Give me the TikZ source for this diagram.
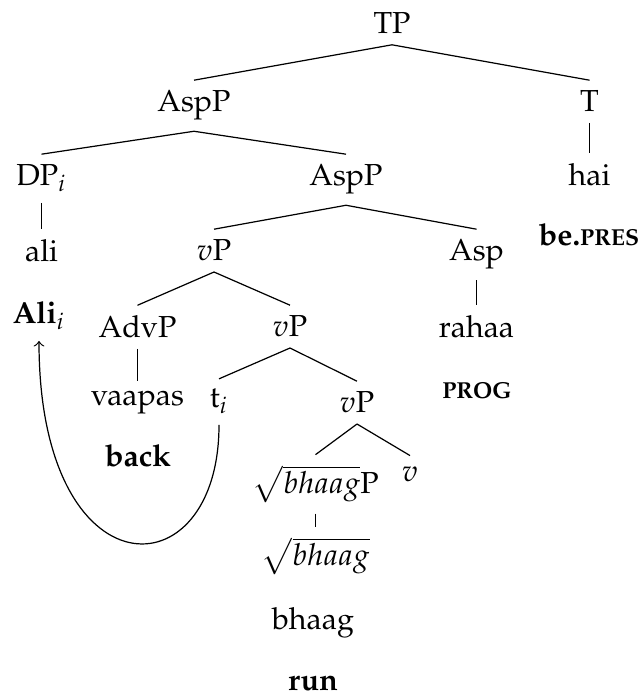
\documentclass[tikz,border=0pt]{standalone}
\usepackage[T1]{fontenc}
\usepackage[sc]{mathpazo}
% bold small capitals for glosses (scaled capitals)
\newcommand{\glsc}[1]{{\fontsize{7.6}{9}\selectfont #1}}
\tikzset{
  cat/.style={anchor=base, inner sep=3.33pt},
  gloss/.style={anchor=base, inner sep=3.33pt, font=\bfseries},
  branch/.style={line width=0.4pt},
  move/.style={->, line width=0.4pt}
}

\begin{document}
\begin{tikzpicture}[x=0.329pt, y=-0.329pt]
\useasboundingbox (0,0) rectangle (641,696);

% the tree
\node[cat] (TP) at (392,34) {TP};
\node[cat] (AspPa) at (194,112) {AspP};
\node[cat] (T) at (589.5,112) {T};
\node[cat] (DP) at (41.5,186) {DP$_i$};
\node[cat] (AspPb) at (346,186) {AspP};
\node[cat] (hai) at (589.5,186) {hai};
\node[cat] (ali) at (41.5,262) {ali};
\node[cat] (vPa) at (214,261) {$v$P};
\node[cat] (Asp) at (476.5,261) {Asp};
\node[cat] (AdvP) at (137.5,338) {AdvP};
\node[cat] (vPb) at (290,337) {$v$P};
\node[cat] (rahaa) at (476.5,338) {rahaa};
\node[cat] (vaapas) at (137.5,406) {vaapas};
\node[cat] (t) at (219,408) {t$_i$};
\node[cat] (vPc) at (357,413) {$v$P};
\node[cat] (rootP) at (315.5,493) {$\sqrt{bhaag}$P};
\node[cat] (v) at (410,481) {$v$};
\node[cat] (root) at (315.5,565) {$\sqrt{bhaag}$};
\node[cat] (bhaag) at (313,629) {bhaag};

\foreach \a/\b in {TP/AspPa, TP/T, AspPa/DP, AspPa/AspPb, T/hai,
    DP/ali, AspPb/vPa, AspPb/Asp, vPa/AdvP, vPa/vPb, Asp/rahaa,
    AdvP/vaapas, vPb/t, vPb/vPc, vPc/rootP, vPc/v, rootP/root}
  \draw[branch] (\a.south) -- (\b.north);

% glosses
\node[gloss] (bepres) at (589,246) {be.\glsc{PRES}};
\node[gloss] (Ali) at (39,324) {Ali\normalfont$_i$};
\node[gloss] (prog) at (477,399) {\glsc{PROG}};
\node[gloss] (back) at (138,466) {back};
\node[gloss] (run) at (313,690) {run};

% movement of the subject
\draw[move] (t.south) .. controls +(0,170) and +(0,255) .. (Ali.south);
\end{tikzpicture}
\end{document}
